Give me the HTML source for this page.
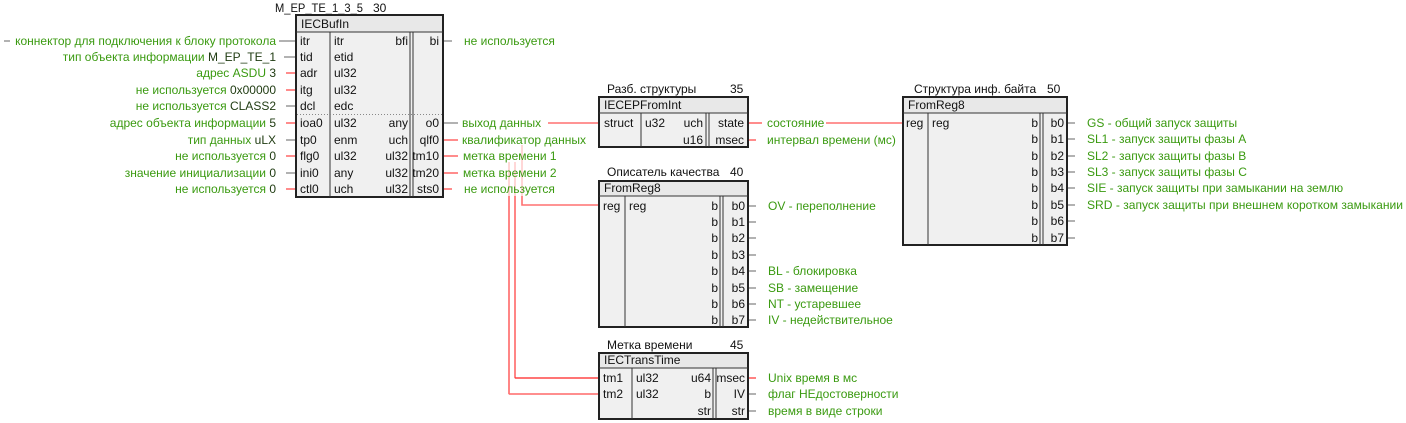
<!DOCTYPE html>
<html><head><meta charset="utf-8"><style>
html,body{margin:0;padding:0;background:#fff;width:1406px;height:423px;overflow:hidden}
svg{display:block}
text{font-family:"Liberation Sans",sans-serif;font-size:12px;fill:#111}
.g{fill:#3a9a10}
.v{fill:#1e3a10}
.r{text-anchor:end}
.box{fill:#f0f0f0;stroke:#222;stroke-width:2}
.hdr{fill:#e8e8e8}
.ln{stroke:#333;stroke-width:1;fill:none;shape-rendering:crispEdges}
.w{stroke:#ff7070;stroke-width:1.6;fill:none}
.wr{stroke:#ff3030;stroke-width:1.2;fill:none}
.s{stroke:#999;stroke-width:1.5;fill:none}
</style></head><body>
<svg width="1406" height="423" viewBox="0 0 1406 423" xmlns="http://www.w3.org/2000/svg">

<line class="s" x1="4" y1="41" x2="10" y2="41"/>
<line class="s" x1="279" y1="41" x2="296" y2="41"/>
<line class="s" x1="284" y1="57" x2="296" y2="57"/>
<line class="w" x1="286" y1="73" x2="296" y2="73"/>
<line class="w" x1="286" y1="90" x2="296" y2="90"/>
<line class="s" x1="286" y1="106" x2="296" y2="106"/>
<line class="w" x1="286" y1="123" x2="296" y2="123"/>
<line class="s" x1="286" y1="140" x2="296" y2="140"/>
<line class="w" x1="286" y1="156" x2="296" y2="156"/>
<line class="s" x1="286" y1="173" x2="296" y2="173"/>
<line class="w" x1="286" y1="189" x2="296" y2="189"/>
<line class="s" x1="443" y1="41" x2="452" y2="41"/>
<line class="s" x1="443" y1="123" x2="458" y2="123"/>
<line class="w" x1="548" y1="123" x2="599" y2="123"/>
<line class="w" x1="443" y1="140" x2="458" y2="140"/>
<line class="w" x1="443" y1="156" x2="458" y2="156"/>
<line class="w" x1="443" y1="173" x2="458" y2="173"/>
<line class="w" x1="443" y1="189" x2="452" y2="189"/>
<path d="M509 162 V394 H599" class="w" opacity="0.35"/>
<path d="M509 196 V394" class="w"/>
<path d="M515 162 V378 H599" class="w" opacity="0.35"/>
<path d="M515 196 V378" class="w"/>
<line class="wr" x1="515" y1="378" x2="599" y2="378"/>
<line class="w" x1="509" y1="394" x2="599" y2="394"/>
<path d="M522 145 V196" class="w" opacity="0.35"/>
<path d="M522 196 V205 H599" class="w"/>
<line class="w" x1="748" y1="123" x2="762" y2="123"/>
<line class="w" x1="826" y1="123" x2="903" y2="123"/>
<line class="w" x1="748" y1="140" x2="756" y2="140"/>
<g class="s">
<line x1="748" y1="206" x2="756" y2="206"/><line x1="748" y1="222" x2="756" y2="222"/>
<line x1="748" y1="238" x2="756" y2="238"/><line x1="748" y1="255" x2="756" y2="255"/>
<line x1="748" y1="271" x2="756" y2="271"/><line x1="748" y1="288" x2="756" y2="288"/>
<line x1="748" y1="304" x2="756" y2="304"/><line x1="748" y1="320" x2="756" y2="320"/>
</g>
<line class="wr" x1="748" y1="378" x2="756" y2="378"/>
<line class="s" x1="748" y1="394" x2="756" y2="394"/>
<line class="s" x1="748" y1="411" x2="756" y2="411"/>
<g class="s">
<line x1="1067" y1="123" x2="1075" y2="123"/><line x1="1067" y1="139" x2="1075" y2="139"/>
<line x1="1067" y1="156" x2="1075" y2="156"/><line x1="1067" y1="172" x2="1075" y2="172"/>
<line x1="1067" y1="188" x2="1075" y2="188"/><line x1="1067" y1="205" x2="1075" y2="205"/>
<line x1="1067" y1="221" x2="1075" y2="221"/><line x1="1067" y1="238" x2="1075" y2="238"/>
</g>

<text x="275" y="12" textLength="88" lengthAdjust="spacingAndGlyphs">M_EP_TE_1_3_5</text><text x="373" y="12">30</text>
<rect class="box" x="296" y="15" width="147" height="182"/>
<rect class="hdr" x="297" y="16" width="145" height="16"/>
<line class="ln" x1="296" y1="32" x2="443" y2="32"/>
<line class="ln" x1="330" y1="32" x2="330" y2="197"/>
<line class="ln" x1="410" y1="32" x2="410" y2="197"/>
<line class="ln" x1="413" y1="32" x2="413" y2="197"/>
<line x1="297" y1="114.5" x2="442" y2="114.5" stroke="#888" stroke-dasharray="1,2"/>
<text x="301" y="28">IECBufIn</text>
<g>
<text x="300" y="45">itr</text><text x="334" y="45">itr</text><text class="r" x="408" y="45">bfi</text><text class="r" x="439" y="45">bi</text>
<text x="300" y="61">tid</text><text x="334" y="61">etid</text>
<text x="300" y="77">adr</text><text x="334" y="77">ul32</text>
<text x="300" y="94">itg</text><text x="334" y="94">ul32</text>
<text x="300" y="110">dcl</text><text x="334" y="110">edc</text>
<text x="300" y="127">ioa0</text><text x="334" y="127">ul32</text><text class="r" x="408" y="127">any</text><text class="r" x="439" y="127">o0</text>
<text x="300" y="144">tp0</text><text x="334" y="144">enm</text><text class="r" x="408" y="144">uch</text><text class="r" x="439" y="144">qlf0</text>
<text x="300" y="160">flg0</text><text x="334" y="160">ul32</text><text class="r" x="408" y="160">ul32</text><text class="r" x="439" y="160">tm10</text>
<text x="300" y="177">ini0</text><text x="334" y="177">any</text><text class="r" x="408" y="177">ul32</text><text class="r" x="439" y="177">tm20</text>
<text x="300" y="193">ctl0</text><text x="334" y="193">uch</text><text class="r" x="408" y="193">ul32</text><text class="r" x="439" y="193">sts0</text>
</g>
<text class="g r" x="276" y="45">коннектор для подключения к блоку протокола</text>
<text class="r" x="276" y="61"><tspan class="g">тип объекта информации </tspan><tspan class="v">M_EP_TE_1</tspan></text>
<text class="r" x="276" y="77"><tspan class="g">адрес ASDU </tspan><tspan class="v"> 3</tspan></text>
<text class="r" x="276" y="94"><tspan class="g">не используется </tspan><tspan class="v"> 0x00000</tspan></text>
<text class="r" x="276" y="110"><tspan class="g">не используется </tspan><tspan class="v"> CLASS2</tspan></text>
<text class="r" x="276" y="127"><tspan class="g">адрес объекта информации </tspan><tspan class="v"> 5</tspan></text>
<text class="r" x="276" y="144"><tspan class="g">тип данных </tspan><tspan class="v"> uLX</tspan></text>
<text class="r" x="276" y="160"><tspan class="g">не используется </tspan><tspan class="v"> 0</tspan></text>
<text class="r" x="276" y="177"><tspan class="g">значение инициализации </tspan><tspan class="v">0</tspan></text>
<text class="r" x="276" y="193"><tspan class="g">не используется </tspan><tspan class="v"> 0</tspan></text>
<text class="g" x="464" y="45">не используется</text>
<text class="g" x="462" y="127">выход данных</text>
<text class="g" x="462" y="144">квалификатор данных</text>
<text class="g" x="463" y="160">метка времени 1</text>
<text class="g" x="463" y="177">метка времени 2</text>
<text class="g" x="464" y="193">не используется</text>

<text x="607" y="93">Разб. структуры</text><text x="730" y="93">35</text>
<rect class="box" x="599" y="97" width="149" height="50"/>
<rect class="hdr" x="600" y="98" width="147" height="15"/>
<line class="ln" x1="599" y1="113" x2="748" y2="113"/>
<line class="ln" x1="641" y1="113" x2="641" y2="147"/>
<line class="ln" x1="706" y1="113" x2="706" y2="147"/>
<line class="ln" x1="709" y1="113" x2="709" y2="147"/>
<text x="604" y="109">IECEPFromInt</text>
<text x="604" y="127">struct</text><text x="645" y="127">u32</text><text class="r" x="703" y="127">uch</text><text class="r" x="744" y="127">state</text>
<text class="r" x="703" y="144">u16</text><text class="r" x="744" y="144">msec</text>
<text class="g" x="767" y="127">состояние</text>
<text class="g" x="767" y="144">интервал времени (мс)</text>

<text x="607" y="176">Описатель качества</text><text x="730" y="176">40</text>
<rect class="box" x="599" y="181" width="149" height="146"/>
<rect class="hdr" x="600" y="182" width="147" height="14"/>
<line class="ln" x1="599" y1="196" x2="748" y2="196"/>
<line class="ln" x1="625" y1="196" x2="625" y2="327"/>
<line class="ln" x1="720" y1="196" x2="720" y2="327"/>
<line class="ln" x1="723" y1="196" x2="723" y2="327"/>
<text x="604" y="192">FromReg8</text>
<text x="603" y="210">reg</text><text x="629" y="210">reg</text>
<g>
<text class="r" x="718" y="210">b</text><text class="r" x="745" y="210">b0</text>
<text class="r" x="718" y="226">b</text><text class="r" x="745" y="226">b1</text>
<text class="r" x="718" y="242">b</text><text class="r" x="745" y="242">b2</text>
<text class="r" x="718" y="259">b</text><text class="r" x="745" y="259">b3</text>
<text class="r" x="718" y="275">b</text><text class="r" x="745" y="275">b4</text>
<text class="r" x="718" y="292">b</text><text class="r" x="745" y="292">b5</text>
<text class="r" x="718" y="308">b</text><text class="r" x="745" y="308">b6</text>
<text class="r" x="718" y="324">b</text><text class="r" x="745" y="324">b7</text>
</g>
<text class="g" x="768" y="210">OV - переполнение</text>
<text class="g" x="768" y="275">BL - блокировка</text>
<text class="g" x="768" y="292">SB - замещение</text>
<text class="g" x="768" y="308">NT - устаревшее</text>
<text class="g" x="768" y="324">IV - недействительное</text>

<text x="607" y="349">Метка времени</text><text x="730" y="349">45</text>
<rect class="box" x="599" y="353" width="149" height="66"/>
<rect class="hdr" x="600" y="354" width="147" height="14"/>
<line class="ln" x1="599" y1="368" x2="748" y2="368"/>
<line class="ln" x1="632" y1="368" x2="632" y2="419"/>
<line class="ln" x1="713" y1="368" x2="713" y2="419"/>
<line class="ln" x1="716" y1="368" x2="716" y2="419"/>
<text x="604" y="364">IECTransTime</text>
<text x="603" y="382">tm1</text><text x="636" y="382">ul32</text><text class="r" x="711" y="382">u64</text><text class="r" x="745" y="382">msec</text>
<text x="603" y="398">tm2</text><text x="636" y="398">ul32</text><text class="r" x="711" y="398">b</text><text class="r" x="745" y="398">IV</text>
<text class="r" x="711" y="415">str</text><text class="r" x="745" y="415">str</text>
<text class="g" x="768" y="382">Unix время в мс</text>
<text class="g" x="768" y="398">флаг НЕдостоверности</text>
<text class="g" x="768" y="415">время в виде строки</text>

<text x="914" y="93">Структура инф. байта</text><text x="1047" y="93">50</text>
<rect class="box" x="903" y="97" width="164" height="148"/>
<rect class="hdr" x="904" y="98" width="162" height="15"/>
<line class="ln" x1="903" y1="113" x2="1067" y2="113"/>
<line class="ln" x1="928" y1="113" x2="928" y2="245"/>
<line class="ln" x1="1040" y1="113" x2="1040" y2="245"/>
<line class="ln" x1="1043" y1="113" x2="1043" y2="245"/>
<text x="908" y="109">FromReg8</text>
<text x="906" y="127">reg</text><text x="932" y="127">reg</text>
<g>
<text class="r" x="1038" y="127">b</text><text class="r" x="1064" y="127">b0</text>
<text class="r" x="1038" y="143">b</text><text class="r" x="1064" y="143">b1</text>
<text class="r" x="1038" y="160">b</text><text class="r" x="1064" y="160">b2</text>
<text class="r" x="1038" y="176">b</text><text class="r" x="1064" y="176">b3</text>
<text class="r" x="1038" y="192">b</text><text class="r" x="1064" y="192">b4</text>
<text class="r" x="1038" y="209">b</text><text class="r" x="1064" y="209">b5</text>
<text class="r" x="1038" y="225">b</text><text class="r" x="1064" y="225">b6</text>
<text class="r" x="1038" y="242">b</text><text class="r" x="1064" y="242">b7</text>
</g>
<text class="g" x="1087" y="127">GS - общий запуск защиты</text>
<text class="g" x="1087" y="143">SL1 - запуск защиты фазы А</text>
<text class="g" x="1087" y="160">SL2 - запуск защиты фазы В</text>
<text class="g" x="1087" y="176">SL3 - запуск защиты фазы С</text>
<text class="g" x="1087" y="192">SIE - запуск защиты при замыкании на землю</text>
<text class="g" x="1087" y="209" textLength="316" lengthAdjust="spacingAndGlyphs">SRD - запуск защиты при внешнем коротком замыкании</text>
</svg>
</body></html>
